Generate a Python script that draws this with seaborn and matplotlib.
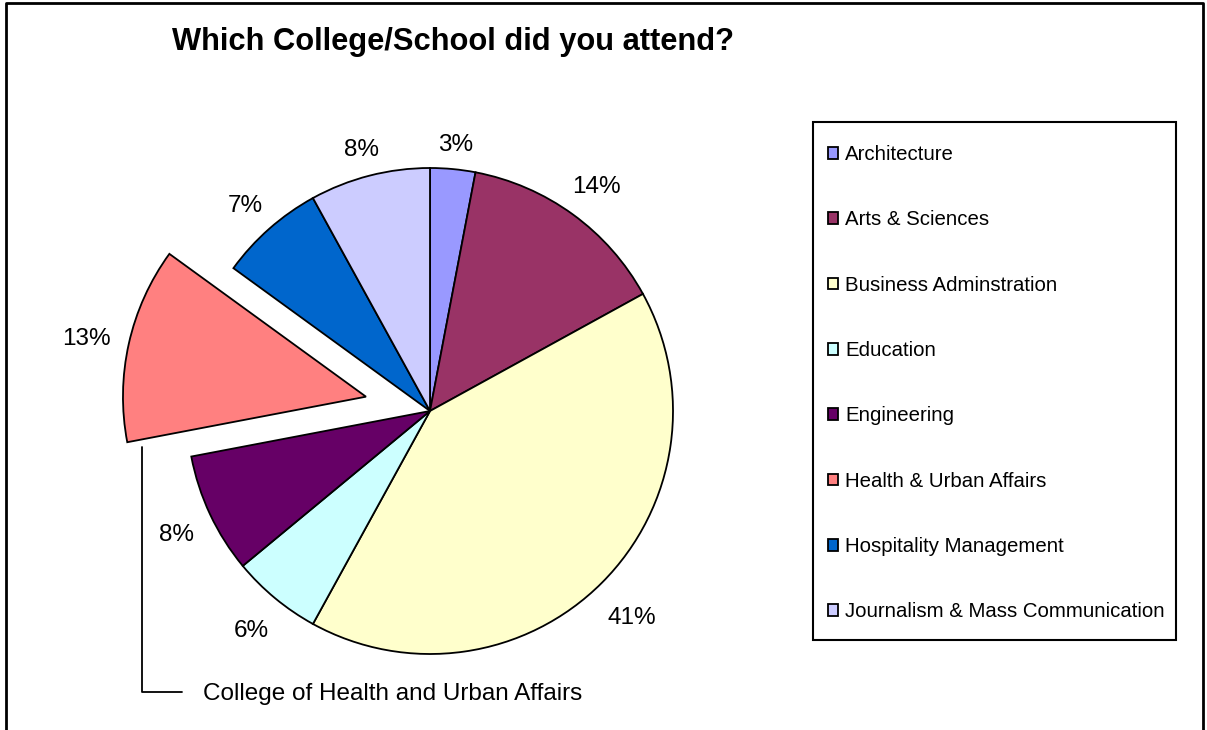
import math

import matplotlib
matplotlib.use("Agg")
import matplotlib.pyplot as plt
from matplotlib.lines import Line2D
from matplotlib.patches import Rectangle
import seaborn as sns

# survey answers (percent)
schools = ["Architecture", "Arts & Sciences", "Business Adminstration", "Education",
           "Engineering", "Health & Urban Affairs", "Hospitality Management",
           "Journalism & Mass Communication"]
shares = [3, 14, 41, 6, 8, 13, 7, 8]
colors = ["#9999FF", "#993366", "#FFFFCC", "#CCFFFF",
          "#660066", "#FF8080", "#0066CC", "#CCCCFF"]
pulled_out = "Health & Urban Affairs"


def main():
    sns.set_theme(style="white")
    plt.rcParams['font.family'] = ['Liberation Sans', 'DejaVu Sans']
    plt.rcParams['text.color'] = 'black'

    W, H = 1207, 730
    R = 243
    fig = plt.figure(figsize=(W / 100, H / 100), dpi=100)
    fig.patch.set_facecolor("white")
    # axes in pixel units so the pie sits where it should
    ax = fig.add_axes([0, 0, 1, 1])

    explode = [0.27 * R if s == pulled_out else 0 for s in schools]
    wedges, texts, autotexts = ax.pie(
        shares, colors=colors, explode=explode, startangle=90,
        counterclock=False, radius=R, center=(430, H - 411),
        autopct='%1.0f%%', pctdistance=1.1,
        wedgeprops=dict(edgecolor="black", linewidth=1.3),
        textprops=dict(fontsize=17.5, color="black"))
    ax.set_xlim(0, W)
    ax.set_ylim(0, H)
    ax.set_aspect("auto")
    ax.axis("off")

    # push each percentage out so its box just clears the pie edge (Excel style)
    fig.canvas.draw()
    renderer = fig.canvas.get_renderer()
    for w, t in zip(wedges, autotexts):
        mid = math.radians((w.theta1 + w.theta2) / 2)
        ux, uy = math.cos(mid), math.sin(mid)
        bb = t.get_window_extent(renderer)
        d = 1.07 * R + bb.width / 2 * abs(ux) + bb.height / 2 * abs(uy)
        cx, cy = w.center
        t.set_position((cx + d * ux, cy + d * uy - 5))
        t.set_va("center")

    leg = ax.legend(wedges, schools, loc="upper left",
                    bbox_to_anchor=(828 / W, 1 - 145 / H),
                    bbox_transform=fig.transFigure, borderaxespad=0,
                    fontsize=14.7, frameon=False, labelcolor="black",
                    handlelength=0.5, handleheight=0.5, handletextpad=0.34,
                    labelspacing=2.27, borderpad=0)
    fig.add_artist(Rectangle((813 / W, 1 - 640 / H), (1176 - 813) / W, (640 - 122) / H,
                             transform=fig.transFigure, fill=False,
                             edgecolor="black", lw=1.5))

    # callout for the pulled-out slice
    ax.plot([142, 142, 182], [H - 447, H - 692, H - 692], color="black", lw=1.3)
    ax.text(203, H - 694, "College of Health and Urban Affairs",
            fontsize=17.5, va="center", ha="left")

    fig.text(172 / W, 1 - 42 / H, "Which College/School did you attend?",
             fontsize=22.2, fontweight="bold", va="center", ha="left")

    # outer chart border (bottom edge falls off the image)
    fig.add_artist(Line2D([6 / W, 6 / W, 1203 / W, 1203 / W],
                          [-0.05, 1 - 3 / H, 1 - 3 / H, -0.05],
                          transform=fig.transFigure, color="black", lw=2))

    fig.savefig("out.png", dpi=100)


if __name__ == "__main__":
    main()
